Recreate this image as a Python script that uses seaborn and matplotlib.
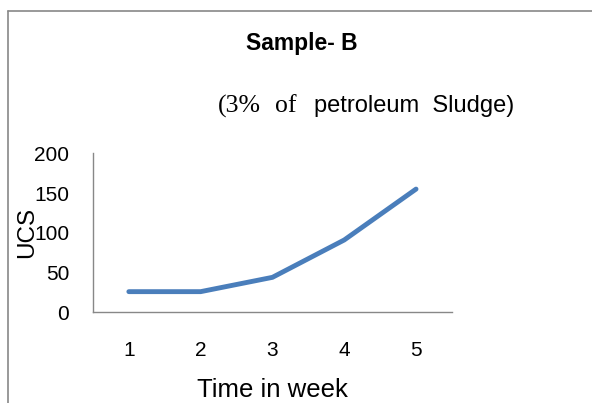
import matplotlib
matplotlib.use("Agg")
import matplotlib.pyplot as plt
from matplotlib.lines import Line2D
import pandas as pd
import seaborn as sns

# data
weeks = [1, 2, 3, 4, 5]
ucs = [26, 26, 44, 91, 155]
y_ticks = [0, 50, 100, 150, 200]

df = pd.DataFrame({"week": weeks, "ucs": ucs})

sns.set_style("white")
plt.rcParams["font.family"] = ["Liberation Sans", "DejaVu Sans"]
plt.rcParams["text.color"] = "black"
plt.rcParams["axes.labelcolor"] = "black"
plt.rcParams["xtick.color"] = "black"
plt.rcParams["ytick.color"] = "black"

fig = plt.figure(figsize=(5.92, 4.03), dpi=100)
ax = fig.add_axes([0.157, 0.225, 0.6064, 0.3946])

sns.lineplot(data=df, x="week", y="ucs", ax=ax, color="#4A7EBB", lw=3.5,
             solid_capstyle="round")

# ── axes styling ──────────────────────────────────────────
ax.set_xlim(0.5, 5.5)
ax.set_ylim(0, 200)
ax.set_yticks(y_ticks)
ax.set_xticks(weeks)
ax.set_xticks([w - 0.5 for w in weeks] + [5.5], minor=True)
ax.tick_params(axis="x", which="major", length=0, labelsize=15, pad=21)
ax.tick_params(axis="x", which="minor", length=5, width=1, color="#888888",
               direction="out")
ax.tick_params(axis="y", length=5, width=1, color="#888888", direction="out",
               labelsize=15, pad=12, labelcolor="black")
for side in ["top", "right"]:
    ax.spines[side].set_visible(False)
for side in ["left", "bottom"]:
    ax.spines[side].set_color("#888888")
    ax.spines[side].set_linewidth(1)

ax.set_xlabel("Time in week", fontsize=18.5)
ax.xaxis.set_label_coords(0.5, -0.41)
ax.set_ylabel("UCS", fontsize=17.5)
ax.yaxis.set_label_coords(-0.153, 0.5)

# ── titles ────────────────────────────────────────────────
fig.text(0.510, 0.891, "Sample- B", fontsize=16.5, fontweight="bold",
         ha="center", va="center")
fig.text(0.368, 0.737, "(3%", fontsize=18.5, family="Liberation Serif",
         ha="left", va="center")
fig.text(0.500, 0.737, "of", fontsize=18.5, family="Liberation Serif",
         ha="right", va="center")
fig.text(0.868, 0.737, "petroleum  Sludge)", fontsize=17,
         ha="right", va="center")

# ── chart-area border (only left and top visible) ─────────
fig.add_artist(Line2D([8 / 592, 8 / 592], [0, 1 - 11 / 403],
                      transform=fig.transFigure, color="#888888", lw=1.2))
fig.add_artist(Line2D([8 / 592, 1], [1 - 11 / 403, 1 - 11 / 403],
                      transform=fig.transFigure, color="#888888", lw=1.2))

fig.savefig("out.png", dpi=100)
